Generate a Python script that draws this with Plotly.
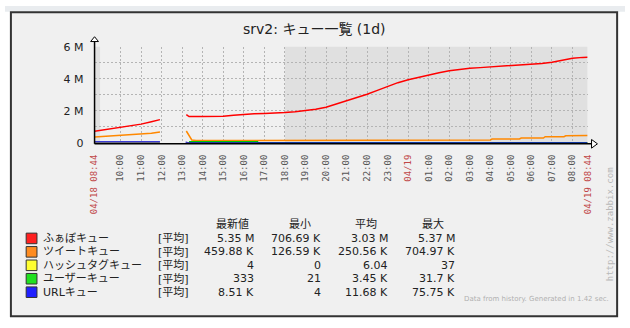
import plotly.graph_objects as go

W, H = 630, 328
D1, D2 = "2013-04-18 ", "2013-04-19 "

# ---------------- data ----------------
fav_t = [D1+"08:44", D1+"09:00", D1+"09:30", D1+"10:00", D1+"10:30", D1+"11:00", D1+"11:30", D1+"11:55",
         D1+"12:30",
         D1+"13:12", D1+"13:20", D1+"14:00", D1+"14:30", D1+"15:00", D1+"15:30", D1+"16:00", D1+"16:30",
         D1+"17:00", D1+"17:30", D1+"18:00", D1+"18:30", D1+"19:00", D1+"19:30", D1+"20:00", D1+"20:30",
         D1+"21:00", D1+"21:30", D1+"22:00", D1+"22:30", D1+"23:00", D1+"23:30", D2+"00:00", D2+"00:30",
         D2+"01:00", D2+"01:30", D2+"02:00", D2+"02:30", D2+"03:00", D2+"03:30", D2+"04:00", D2+"04:30",
         D2+"05:00", D2+"05:30", D2+"06:00", D2+"06:30", D2+"07:00", D2+"07:30", D2+"08:00", D2+"08:30", D2+"08:44"]
fav_v = [0.73, 0.78, 0.85, 0.95, 1.05, 1.17, 1.32, 1.45,
         None,
         1.76, 1.64, 1.64, 1.64, 1.66, 1.72, 1.78, 1.82,
         1.84, 1.86, 1.90, 1.95, 2.02, 2.10, 2.22, 2.42,
         2.62, 2.82, 3.04, 3.28, 3.54, 3.76, 3.94, 4.10,
         4.24, 4.38, 4.50, 4.60, 4.66, 4.70, 4.74, 4.78,
         4.82, 4.86, 4.90, 4.96, 5.04, 5.16, 5.28, 5.34, 5.35]

tw_t = [D1+"08:44", D1+"09:15", D1+"10:00", D1+"10:30", D1+"11:00", D1+"11:30", D1+"11:55",
        D1+"12:30",
        D1+"13:12", D1+"13:20", D1+"13:28", D1+"13:40", D1+"15:00", D1+"16:25", D1+"16:28", D1+"16:35",
        D1+"17:00", D1+"18:00", D1+"20:00", D1+"23:00", D2+"02:00", D2+"04:00", D2+"04:05", D2+"05:25",
        D2+"05:30", D2+"06:35", D2+"06:40", D2+"07:35", D2+"07:40", D2+"08:10", D2+"08:15", D2+"08:44"]
tw_v = [0.36, 0.40, 0.44, 0.50, 0.54, 0.60, 0.68,
        None,
        0.74, 0.50, 0.18, 0.14, 0.14, 0.14, 0.17, 0.15,
        0.15, 0.17, 0.17, 0.17, 0.17, 0.18, 0.24, 0.24,
        0.30, 0.30, 0.38, 0.38, 0.44, 0.44, 0.47, 0.46]

hash_t = [D1+"08:44", D1+"11:55", D1+"12:30", D1+"13:12", D2+"08:44"]
hash_v = [0.00001, 0.00001, None, 0.00001, 0.000004]

user_t = [D1+"13:20", D1+"13:25", D1+"15:00", D1+"16:40", D1+"16:42", D2+"08:44"]
user_v = [0.075, 0.075, 0.072, 0.07, 0.0003, 0.0003]

url_t = [D1+"08:44", D1+"11:55", D1+"12:30", D1+"13:10", D1+"13:18", D1+"16:40", D1+"16:45", D2+"08:44"]
url_v = [0.05, 0.06, None, 0.04, 0.0, 0.0, 0.008, 0.0085]

names = ["ふぁぼキュー", "ツイートキュー", "ハッシュタグキュー", "ユーザーキュー", "URLキュー"]
latest = ["5.35 M", "459.88 K", "4", "333", "8.51 K"]
mins = ["706.69 K", "126.59 K", "0", "21", "4"]
avgs = ["3.03 M", "250.56 K", "6.04", "3.45 K", "11.68 K"]
maxs = ["5.37 M", "704.97 K", "37", "31.7 K", "75.75 K"]
headers = ["最新値", "最小", "平均", "最大"]

x_tickvals = [D1+"08:44"] + [D1+"%02d:00" % h for h in range(10, 24)] + [D2+"00:00"] + \
             [D2+"%02d:00" % h for h in range(1, 9)] + [D2+"08:44"]
x_ticktext = ["04/18 08:44"] + ["%02d:00" % h for h in range(10, 24)] + ["04/19"] + \
             ["%02d:00" % h for h in range(1, 9)] + ["04/19 08:44"]
red_ticks = {"04/18 08:44", "04/19", "04/19 08:44"}
y_tickvals = [0, 1, 2, 3, 4, 5, 6]
y_ticktext = ["0", "", "2 M", "", "4 M", "", "6 M"]

line_colors = ["#ff0000", "#ff8800", "#eeee00", "#00c800", "#0000cc"]
box_colors = ["#ff2020", "#ff8c20", "#ffff30", "#20e020", "#2020ff"]

# ---------------- helpers ----------------
def px(x):
    return x / W

def py(y):
    return 1 - y / H

FONT = "DejaVu Sans, Noto Sans CJK JP, sans-serif"

fig = go.Figure()
series = [(fav_t, fav_v), (tw_t, tw_v), (hash_t, hash_v), (user_t, user_v), (url_t, url_v)]
for i, (t, v) in enumerate(series):
    fig.add_trace(go.Scatter(
        x=t, y=[None if a is None else a * 1e6 for a in v], mode="lines",
        line=dict(color=line_colors[i], width=1.5), connectgaps=False,
        hoverinfo="skip", showlegend=False))

shapes = []
shapes.append(dict(type="rect", xref="paper", yref="paper", x0=0, x1=1, y0=py(6), y1=1,
                   fillcolor="#e9ecef", line_width=0, layer="below"))
shapes.append(dict(type="rect", xref="paper", yref="paper", x0=px(6), x1=px(622), y0=py(323), y1=py(6.5),
                   fillcolor="#f0f0f0", line=dict(color="#333333", width=2), layer="below"))
shapes.append(dict(type="rect", xref="x", yref="y domain", x0=D1+"08:44", x1=D1+"09:00", y0=0, y1=1,
                   fillcolor="#e0e0e0", line_width=0, layer="below"))
shapes.append(dict(type="rect", xref="x", yref="y domain", x0=D1+"18:00", x1=D2+"08:44", y0=0, y1=1,
                   fillcolor="#e0e0e0", line_width=0, layer="below"))
shapes.append(dict(type="line", xref="paper", yref="paper", x0=px(91), x1=px(597), y0=py(143.5), y1=py(143.5),
                   line=dict(color="#000000", width=1.5), layer="below"))
shapes.append(dict(type="line", xref="paper", yref="paper", x0=px(91), x1=px(91), y0=py(143.5), y1=py(37),
                   line=dict(color="#000000", width=1.5), layer="above"))
shapes.append(dict(type="path", xref="paper", yref="paper",
                   path="M %f %f L %f %f L %f %f Z" % (px(596), py(139), px(602), py(143.5), px(596), py(148)),
                   fillcolor="#ffffff", line=dict(color="#000000", width=1), layer="above"))
shapes.append(dict(type="path", xref="paper", yref="paper",
                   path="M %f %f L %f %f L %f %f Z" % (px(87), py(37), px(91), py(32), px(95), py(37)),
                   fillcolor="#ffffff", line=dict(color="#000000", width=1), layer="above"))

annotations = []
annotations.append(dict(text="srv2: キュー一覧 (1d)", xref="paper", yref="paper", x=px(314), y=py(24),
                        showarrow=False, font=dict(family=FONT, size=14, color="#222222"),
                        xanchor="center", yanchor="middle"))

row_y = [242, 256, 270, 284, 298]
col_right = [255, 323, 391, 459]
head_center = [231, 300, 367, 435]
for j, h in enumerate(headers):
    annotations.append(dict(text=h, xref="paper", yref="paper", x=px(head_center[j]), y=py(227),
                            showarrow=False, font=dict(family=FONT, size=11, color="#222222"),
                            xanchor="center", yanchor="middle"))
for i, n in enumerate(names):
    yy = row_y[i]
    shapes.append(dict(type="rect", xref="paper", yref="paper", x0=px(21.5), x1=px(32.5),
                       y0=py(yy + 5.5), y1=py(yy - 5.5), fillcolor=box_colors[i],
                       line=dict(color="#333333", width=1), layer="above"))
    annotations.append(dict(text=n, xref="paper", yref="paper", x=px(37), y=py(yy), showarrow=False,
                            font=dict(family=FONT, size=11, color="#222222"), xanchor="left", yanchor="middle"))
    annotations.append(dict(text="[平均]", xref="paper", yref="paper", x=px(153), y=py(yy), showarrow=False,
                            font=dict(family=FONT, size=11, color="#222222"), xanchor="left", yanchor="middle"))
    for j, col in enumerate([latest, mins, avgs, maxs]):
        annotations.append(dict(text=col[i], xref="paper", yref="paper", x=px(col_right[j]), y=py(yy),
                                showarrow=False, font=dict(family=FONT, size=11, color="#222222"),
                                xanchor="right", yanchor="middle"))

annotations.append(dict(text="Data from history. Generated in 1.42 sec.", xref="paper", yref="paper",
                        x=px(616), y=py(305), showarrow=False,
                        font=dict(family="DejaVu Sans", size=7, color="#b0b0b0"),
                        xanchor="right", yanchor="middle"))
annotations.append(dict(text="http://www.zabbix.com", xref="paper", yref="paper",
                        x=px(615), y=py(227), showarrow=False, textangle=-90,
                        font=dict(family="DejaVu Sans Mono", size=9, color="#b8b8b8"),
                        xanchor="center", yanchor="middle"))

ticktext_html = [("<span style='color:#c04848'>%s</span>" % t) if t in red_ticks else t for t in x_ticktext]

fig.update_layout(
    width=W, height=H, autosize=False,
    margin=dict(l=0, r=0, t=0, b=0, pad=0),
    paper_bgcolor="#ffffff", plot_bgcolor="#ffffff",
    shapes=shapes, annotations=annotations, showlegend=False,
    xaxis=dict(domain=[px(91), px(592)], type="date", range=[D1+"08:44", D2+"08:44"],
               tickmode="array", tickvals=x_tickvals, ticktext=ticktext_html, tickangle=-90,
               showgrid=True, gridcolor="#b4b4b4", griddash="2px,2px", gridwidth=1,
               showline=False, zeroline=False, ticks="", ticklabelstandoff=9,
               tickfont=dict(family="DejaVu Sans Mono", size=9, color="#555555"), fixedrange=True),
    yaxis=dict(domain=[py(142.5), py(42.5)], range=[0, 6e6],
               tickmode="array", tickvals=[v * 1e6 for v in y_tickvals], ticktext=y_ticktext,
               showgrid=True, gridcolor="#b4b4b4", griddash="2px,2px", gridwidth=1,
               showline=False, zeroline=False, ticks="", ticklabelstandoff=10,
               tickfont=dict(family=FONT, size=11, color="#222222"), fixedrange=True),
)

fig.write_html("out.html", config={"displayModeBar": False, "staticPlot": True})
